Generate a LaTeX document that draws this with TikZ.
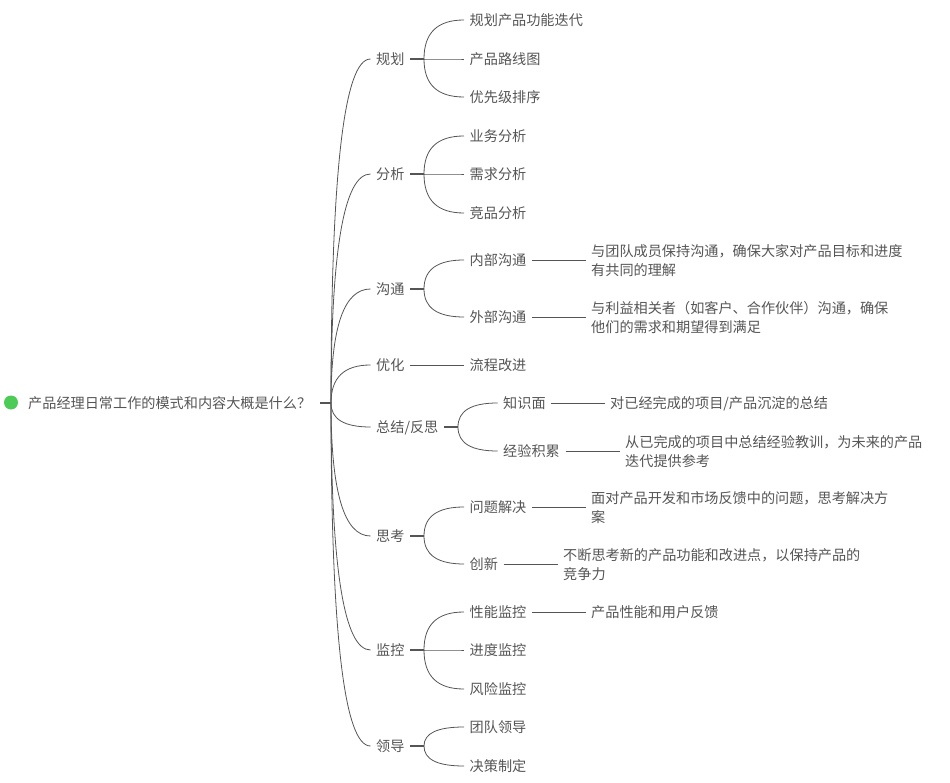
\documentclass[tikz,border=0pt]{standalone}
\usepackage{fontspec}
\setmainfont{Noto Sans CJK SC}
\usetikzlibrary{calc}
\definecolor{inkgray}{HTML}{555555}
\definecolor{dotgreen}{HTML}{4CCB57}
\tikzset{
topic/.style={anchor=west, inner xsep=5.5pt, inner ysep=0pt, text=inkgray, align=left,
  font=\fontsize{14.15}{19}\selectfont, execute at begin node={\rule{0pt}{12.8pt}}},
wrapped/.style={topic, font=\fontsize{14.15}{19.5}\selectfont, execute at begin node={\rule{0pt}{14pt}}},
stub/.style={draw=inkgray, line width=2pt},
branch/.style={draw=inkgray, line width=0.8pt},
}
\newcommand{\linkto}[2]{\draw[branch] (#1) .. controls ($(#1)!.67!(#1|-#2.west)$) and ($(#2.west)!.67!(#1|-#2.west)$) .. (#2.west);}
\begin{document}
\begin{tikzpicture}[x=1pt,y=-1pt]
\useasboundingbox (0,0) rectangle (950,783);
\fill[dotgreen] (11,402.5) circle (7);
\node[topic, inner xsep=9pt] (root) at (19,403) {产品经理日常工作的模式和内容大概是什么？};
% first level
\node[topic] (a1) at (370.5,59) {规划};
\node[topic] (a2) at (370.5,174) {分析};
\node[topic] (a3) at (370.5,289) {沟通};
\node[topic] (a4) at (370.5,365) {优化};
\node[topic] (a5) at (370.5,427) {总结/反思};
\node[topic] (a6) at (370.5,536) {思考};
\node[topic] (a7) at (370.5,650) {监控};
\node[topic] (a8) at (370.5,746) {领导};
% second level
\node[topic] (b1) at (464,20) {规划产品功能迭代};
\node[topic] (b2) at (464,59) {产品路线图};
\node[topic] (b3) at (464,97) {优先级排序};
\node[topic] (b4) at (464,136) {业务分析};
\node[topic] (b5) at (464,174) {需求分析};
\node[topic] (b6) at (464,213) {竞品分析};
\node[topic] (b7) at (464,260) {内部沟通};
\node[topic] (b8) at (464,317) {外部沟通};
\node[topic] (b9) at (464,365) {流程改进};
\node[topic] (b10) at (497.5,403) {知识面};
\node[topic] (b11) at (497.5,451) {经验积累};
\node[topic] (b12) at (464,507) {问题解决};
\node[topic] (b13) at (464,564) {创新};
\node[topic] (b14) at (464,612) {性能监控};
\node[topic] (b15) at (464,650) {进度监控};
\node[topic] (b16) at (464,689) {风险监控};
\node[topic] (b17) at (464,727) {团队领导};
\node[topic] (b18) at (464,766) {决策制定};
% third level
\node[wrapped] (c1) at (585.5,260.5) {与团队成员保持沟通，确保大家对产品目标和进度\\有共同的理解};
\node[wrapped] (c2) at (585.5,317.5) {与利益相关者（如客户、合作伙伴）沟通，确保\\他们的需求和期望得到满足};
\node[topic] (c3) at (604.5,403) {对已经完成的项目/产品沉淀的总结};
\node[wrapped] (c4) at (619.5,451.5) {从已完成的项目中总结经验教训，为未来的产品\\迭代提供参考};
\node[wrapped] (c5) at (585.5,507.5) {面对产品开发和市场反馈中的问题，思考解决方\\案};
\node[wrapped] (c6) at (557.5,564.5) {不断思考新的产品功能和改进点，以保持产品的\\竞争力};
\node[topic] (c7) at (585.5,612) {产品性能和用户反馈};
% forks
\coordinate (j0) at (331,403);
\foreach \n/\x in {1/424,2/424,3/424,5/458,6/424,7/424,8/424}{
\coordinate (j\n) at (\x,0 |- a\n.east);
\draw[stub] (a\n.east) -- (j\n);
}
\draw[stub] (root.east) -- (j0);
\foreach \c in {a1,a2,a3,a4,a5,a6,a7,a8}{\linkto{j0}{\c}}
\foreach \j/\c in {j1/b1,j1/b2,j1/b3,j2/b4,j2/b5,j2/b6,j3/b7,j3/b8,j5/b10,j5/b11,j6/b12,j6/b13,j7/b14,j7/b15,j7/b16,j8/b17,j8/b18}{\linkto{\j}{\c}}
% single children
\draw[branch] (a4) -- (b9);
\draw[branch] (b7) -- (b7 -| c1.west);
\draw[branch] (b8) -- (b8 -| c2.west);
\draw[branch] (b10) -- (c3);
\draw[branch] (b11) -- (b11 -| c4.west);
\draw[branch] (b12) -- (b12 -| c5.west);
\draw[branch] (b13) -- (b13 -| c6.west);
\draw[branch] (b14) -- (c7);
\end{tikzpicture}
\end{document}
